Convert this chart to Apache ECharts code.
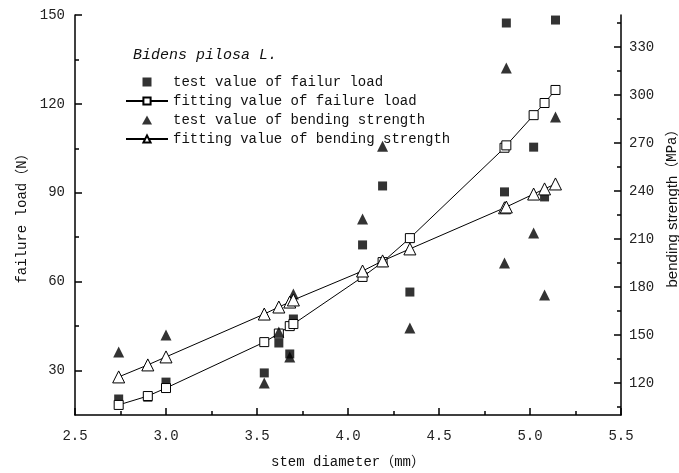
<!DOCTYPE html>
<html>
<head>
<meta charset="utf-8">
<script src="https://cdn.jsdelivr.net/npm/echarts@6/dist/echarts.min.js"></script>
<style>
html, body { margin: 0; padding: 0; background: #fff; }
#main { width: 679px; height: 473px; }
</style>
</head>
<body>
<div id="main"></div>
<script>
// stem diameters (mm)
let diameters = [2.74, 2.90, 3.00, 3.54, 3.62, 3.68, 3.70, 4.08, 4.19, 4.34, 4.86, 4.87, 5.02, 5.08, 5.14];
// failure load (N)
let loadTest = [20.4, 21.0, 26.1, 29.2, 39.3, 35.6, 47.4, 72.4, 92.3, 56.5, 90.3, 147.3, 105.4, 88.6, 148.3];
let loadFit = [18.4, 21.4, 24.1, 39.6, 42.5, 45.0, 45.7, 61.6, 66.6, 74.7, 105.2, 106.0, 116.2, 120.3, 124.7];
// bending strength (MPa)
let bendTest = [139.4, 131.0, 150.0, 120.0, 151.9, 136.3, 175.6, 222.5, 268.0, 154.4, 195.0, 316.9, 213.8, 175.0, 286.3];
let bendFit = [123.8, 131.3, 136.3, 163.1, 167.5, 170.6, 171.9, 190.0, 196.3, 203.8, 229.5, 230.0, 238.1, 241.3, 244.4];

let leftLabels = [30, 60, 90, 120, 150];
let leftMinor = [45, 75, 105, 135];
let rightLabels = [120, 150, 180, 210, 240, 270, 300, 330];
let rightMinor = [105, 135, 165, 195, 225, 255, 285, 315, 345];

let seriesNames = [
    'test value of failur load',
    'fitting value of failure load',
    'test value of bending strength',
    'fitting value of bending strength'
];

const MONO = '"Liberation Mono", "Noto Sans CJK SC", monospace';
const SQUARE = 'path://M0,0L10,0L10,10L0,10Z';
const TRIANGLE = 'path://M5,0L10,9L0,9Z';

function pairs (xs, ys) {
    return xs.map((x, i) => [x, ys[i]]);
}

let chart = echarts.init(document.getElementById('main'), null, { renderer: 'canvas' });

let openStyle = { color: '#fff', borderColor: '#000', borderWidth: 1 };

chart.setOption({
    animation: false,
    backgroundColor: '#fff',
    title: {
        text: 'Bidens pilosa L.',
        left: 128,
        top: 43,
        textStyle: { fontFamily: MONO, fontStyle: 'italic', fontWeight: 'normal', fontSize: 15, color: '#111' }
    },
    legend: {
        orient: 'vertical',
        left: 125,
        top: 75,
        padding: 0,
        itemWidth: 42,
        itemHeight: 9,
        itemGap: 5,
        symbolKeepAspect: true,
        textStyle: { fontFamily: MONO, fontSize: 14, color: '#111' },
        data: [
            { name: seriesNames[0], icon: SQUARE },
            { name: seriesNames[1] },
            { name: seriesNames[2], icon: TRIANGLE },
            { name: seriesNames[3] }
        ]
    },
    grid: { left: 75, right: 58, top: 15, bottom: 58, outerBoundsMode: 'none' },
    xAxis: {
        type: 'value',
        min: 2.5,
        max: 5.5,
        interval: 0.5,
        name: 'stem diameter（mm）',
        nameLocation: 'middle',
        nameGap: 40,
        nameTextStyle: { fontFamily: MONO, fontSize: 14, color: '#111' },
        axisLine: { lineStyle: { color: '#000', width: 1.5 } },
        axisTick: { inside: true, length: 7, lineStyle: { color: '#000', width: 1.5 } },
        minorTick: { show: true, splitNumber: 2, length: 4, lineStyle: { color: '#000', width: 1.5 } },
        axisLabel: {
            margin: 14,
            fontFamily: MONO,
            fontSize: 14,
            color: '#222',
            formatter: v => v.toFixed(1)
        },
        splitLine: { show: false }
    },
    yAxis: [
        {
            type: 'value',
            min: 15,
            max: 150,
            name: 'failure load（N）',
            nameLocation: 'middle',
            nameGap: 46,
            nameTextStyle: { fontFamily: MONO, fontSize: 14, color: '#111' },
            axisLine: { show: true, lineStyle: { color: '#000', width: 1.5 } },
            axisTick: { show: true, inside: true, length: 7, customValues: leftLabels, lineStyle: { color: '#000', width: 1.5 } },
            axisLabel: { customValues: leftLabels, margin: 10, fontFamily: MONO, fontSize: 14, color: '#222' },
            splitLine: { show: false }
        },
        {
            type: 'value',
            position: 'right',
            min: 100,
            max: 350,
            // leading spacer nudges the visible title upward like the original
            name: '{s|}{a|bending strength}{b|（MPa）}',
            nameLocation: 'middle',
            nameGap: 35,
            nameRotate: 90,
            nameTextStyle: {
                rich: {
                    s: { width: 20 },
                    a: { fontFamily: '"Liberation Sans", Arial, sans-serif', fontSize: 15, color: '#111' },
                    b: { fontFamily: MONO, fontSize: 14, color: '#111' }
                }
            },
            axisLine: { show: true, lineStyle: { color: '#000', width: 1.5 } },
            axisTick: { show: true, inside: true, length: 7, customValues: rightLabels, lineStyle: { color: '#000', width: 1.5 } },
            axisLabel: { customValues: rightLabels, margin: 8, fontFamily: MONO, fontSize: 14, color: '#222' },
            splitLine: { show: false }
        },
        {
            // minor ticks on the left
            type: 'value',
            position: 'left',
            min: 15,
            max: 150,
            axisLine: { show: false },
            axisTick: { show: true, inside: true, length: 4, customValues: leftMinor, lineStyle: { color: '#000', width: 1.5 } },
            axisLabel: { show: false },
            splitLine: { show: false }
        },
        {
            // minor ticks on the right
            type: 'value',
            position: 'right',
            min: 100,
            max: 350,
            axisLine: { show: false },
            axisTick: { show: true, inside: true, length: 4, customValues: rightMinor, lineStyle: { color: '#000', width: 1.5 } },
            axisLabel: { show: false },
            splitLine: { show: false }
        }
    ],
    series: [
        {
            name: seriesNames[0],
            type: 'scatter',
            yAxisIndex: 0,
            symbol: 'rect',
            symbolSize: 9,
            itemStyle: { color: '#000' },
            data: pairs(diameters, loadTest),
            z: 2
        },
        {
            name: seriesNames[1],
            type: 'line',
            yAxisIndex: 0,
            symbol: 'rect',
            symbolSize: 9,
            showAllSymbol: true,
            lineStyle: { color: '#000', width: 1 },
            itemStyle: openStyle,
            data: pairs(diameters, loadFit),
            z: 3
        },
        {
            name: seriesNames[2],
            type: 'scatter',
            yAxisIndex: 1,
            symbol: 'triangle',
            symbolSize: 11,
            itemStyle: { color: '#000' },
            data: pairs(diameters, bendTest),
            z: 4
        },
        {
            name: seriesNames[3],
            type: 'line',
            yAxisIndex: 1,
            symbol: 'triangle',
            symbolSize: 12,
            showAllSymbol: true,
            lineStyle: { color: '#000', width: 1 },
            itemStyle: openStyle,
            data: pairs(diameters, bendFit),
            z: 5
        }
    ]
});
</script>
</body>
</html>
